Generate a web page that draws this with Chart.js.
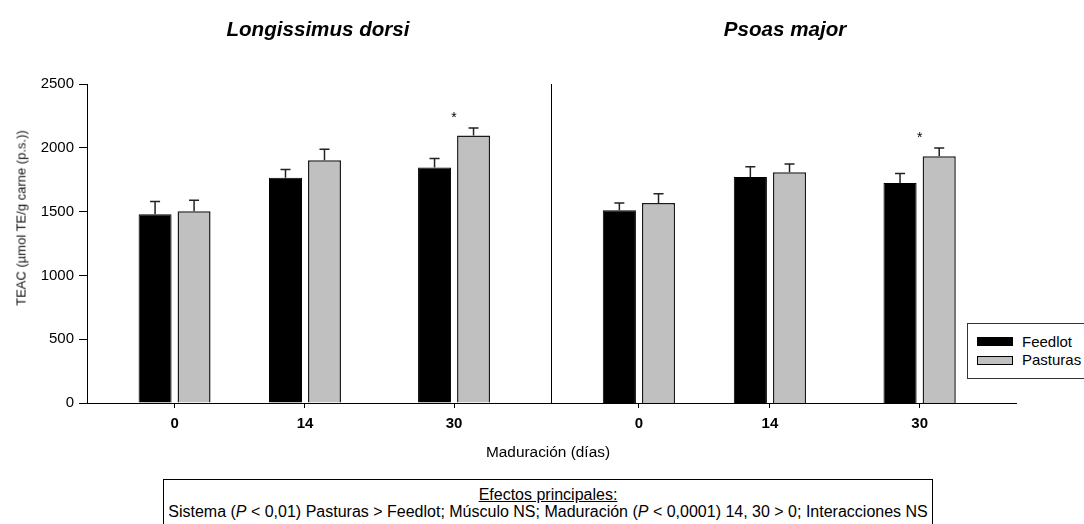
<!DOCTYPE html>
<html>
<head>
<meta charset="utf-8">
<script src="https://cdn.jsdelivr.net/npm/chart.js@4.4.1/dist/chart.umd.min.js"></script>
<style>
  body{margin:0;width:1084px;height:524px;overflow:hidden;background:#fff;position:relative;
    font-family:"Liberation Sans",Arial,sans-serif;color:#000}
  canvas{position:absolute;top:0}
  .ttl{position:absolute;top:17px;line-height:24px;font-size:20.6px;font-weight:bold;font-style:italic;
    transform:translateX(-50%);white-space:nowrap}
  .ylab{position:absolute;left:21px;top:218px;font-size:13px;white-space:nowrap;color:#111;
    transform:translate(-50%,-50%) rotate(-90deg)}
  .xlab{position:absolute;left:548px;top:443px;line-height:18px;font-size:15.4px;transform:translateX(-50%);white-space:nowrap}
  .box{position:absolute;left:163px;top:479px;width:770px;height:60px;border:1px solid #000;
    text-align:center;font-size:16px;line-height:17px;padding-top:6px;box-sizing:border-box;white-space:nowrap}
  .legend{position:absolute;left:967px;top:323px;width:130px;height:54px;border:1px solid #333;background:#fff;font-size:15px}
  .legend .sw{position:absolute;left:9px;width:36px;height:9px;box-sizing:border-box;border:1px solid #000}
  .legend .tx{position:absolute;left:54px;line-height:18px}
</style>
</head>
<body>
<canvas id="ld" width="560" height="470" style="left:0"></canvas>
<canvas id="pm" width="544" height="470" style="left:540px"></canvas>

<div class="ttl" style="left:318px">Longissimus dorsi</div>
<div class="ttl" style="left:785px">Psoas major</div>
<div class="ylab">TEAC (µmol TE/g carne (p.s.))</div>
<div class="xlab">Maduración (días)</div>
<div class="legend">
  <div class="sw" style="top:13px;background:#000"></div><div class="tx" style="top:9px">Feedlot</div>
  <div class="sw" style="top:32px;background:#c0c0c0"></div><div class="tx" style="top:27px">Pasturas</div>
</div>
<div class="box">
  <div><u>Efectos principales:</u></div>
  <div>Sistema (<i>P</i> &lt; 0,01) Pasturas &gt; Feedlot; Músculo NS; Maduración (<i>P</i> &lt; 0,0001) 14, 30 &gt; 0; Interacciones NS</div>
</div>

<script>
const FONT = '"Liberation Sans", Arial, sans-serif';

// maduración (días)
const days = [0, 14, 30];

// Longissimus dorsi
const feedlotLD = [1480, 1765, 1845];
const feedlotLDErr = [100, 65, 72];
const pasturasLD = [1502, 1902, 2097];
const pasturasLDErr = [86, 86, 58];
const sigLD = [false, false, true];

// Psoas major
const feedlotPM = [1510, 1772, 1725];
const feedlotPMErr = [57, 80, 73];
const pasturasPM = [1567, 1808, 1934];
const pasturasPMErr = [73, 66, 65];
const sigPM = [false, false, true];

const yTicksMax = 2500, yStep = 500;
const XMIN = -9.4, XMAX = 40.3;

const errorBars = {
  id: 'errorBars',
  afterDatasetsDraw(chart, args, opts){
    const ctx = chart.ctx, ys = chart.scales.y, xs = chart.scales.x;
    const tops = days.map(() => 0);
    ctx.save();
    ctx.strokeStyle = '#222';
    ctx.lineWidth = 1.5;
    chart.data.datasets.forEach((ds, di) => {
      chart.getDatasetMeta(di).data.forEach((bar, i) => {
        const v = ds.data[i].y + ds.errors[i];
        tops[i] = Math.max(tops[i], v);
        const t = ys.getPixelForValue(v);
        ctx.beginPath();
        ctx.moveTo(bar.x, bar.y);
        ctx.lineTo(bar.x, t);
        ctx.moveTo(bar.x - 5, t);
        ctx.lineTo(bar.x + 5, t);
        ctx.stroke();
      });
    });
    // asterisks
    ctx.fillStyle = '#000';
    ctx.font = '14px ' + FONT;
    ctx.textAlign = 'center';
    ctx.textBaseline = 'alphabetic';
    (opts.sig || []).forEach((s, i) => {
      if (!s) return;
      const y = ys.getPixelForValue(tops[i] + 110);
      ctx.fillText('*', xs.getPixelForValue(days[i]), y + 8);
    });
    ctx.restore();
  }
};

function makeChart(id, feed, feedErr, past, pastErr, sig, first){
  const yScale = first ? {
    min: 0, max: yTicksMax,
    ticks: {stepSize: yStep, color: '#000', font: {size: 15, family: FONT}, padding: 5,
            callback: v => String(v)},
    grid: {drawOnChartArea: false, tickLength: 8, color: '#000'},
    border: {color: '#000', width: 1},
    afterFit: s => { s.width = 87; }
  } : {
    min: 0, max: yTicksMax,
    ticks: {display: false},
    grid: {display: false},
    border: {display: true, color: '#000', width: 1},
    afterFit: s => { s.width = 11; }
  };
  return new Chart(document.getElementById(id), {
    type: 'bar',
    data: {
      datasets: [
        {label: 'Feedlot', data: days.map((d, i) => ({x: d, y: feed[i]})), errors: feedErr,
         backgroundColor: '#000', borderColor: '#000', borderWidth: 1},
        {label: 'Pasturas', data: days.map((d, i) => ({x: d, y: past[i]})), errors: pastErr,
         backgroundColor: '#c0c0c0', borderColor: '#1a1a1a', borderWidth: 1.5}
      ]
    },
    options: {
      responsive: false,
      animation: false,
      events: [],
      categoryPercentage: 0.598,
      barPercentage: 0.846,
      layout: {padding: {top: 84, right: first ? 10 : 68, left: 0, bottom: 0}},
      plugins: {legend: {display: false}, tooltip: {enabled: false}, errorBars: {sig}},
      scales: {
        x: {
          type: 'linear', min: XMIN, max: XMAX, offset: false,
          afterBuildTicks: s => { s.ticks = days.map(v => ({value: v})); },
          ticks: {autoSkip: false, maxRotation: 0, color: '#000', padding: 7,
                  font: {size: 15, weight: 'bold', family: FONT}, callback: v => String(v)},
          grid: {offset: false, drawOnChartArea: false, tickLength: 5, color: '#000'},
          border: {color: '#000', width: 1},
          afterFit: s => { s.height = 67; }
        },
        y: yScale
      }
    },
    plugins: [errorBars]
  });
}

makeChart('ld', feedlotLD, feedlotLDErr, pasturasLD, pasturasLDErr, sigLD, true);
makeChart('pm', feedlotPM, feedlotPMErr, pasturasPM, pasturasPMErr, sigPM, false);
</script>
</body>
</html>
